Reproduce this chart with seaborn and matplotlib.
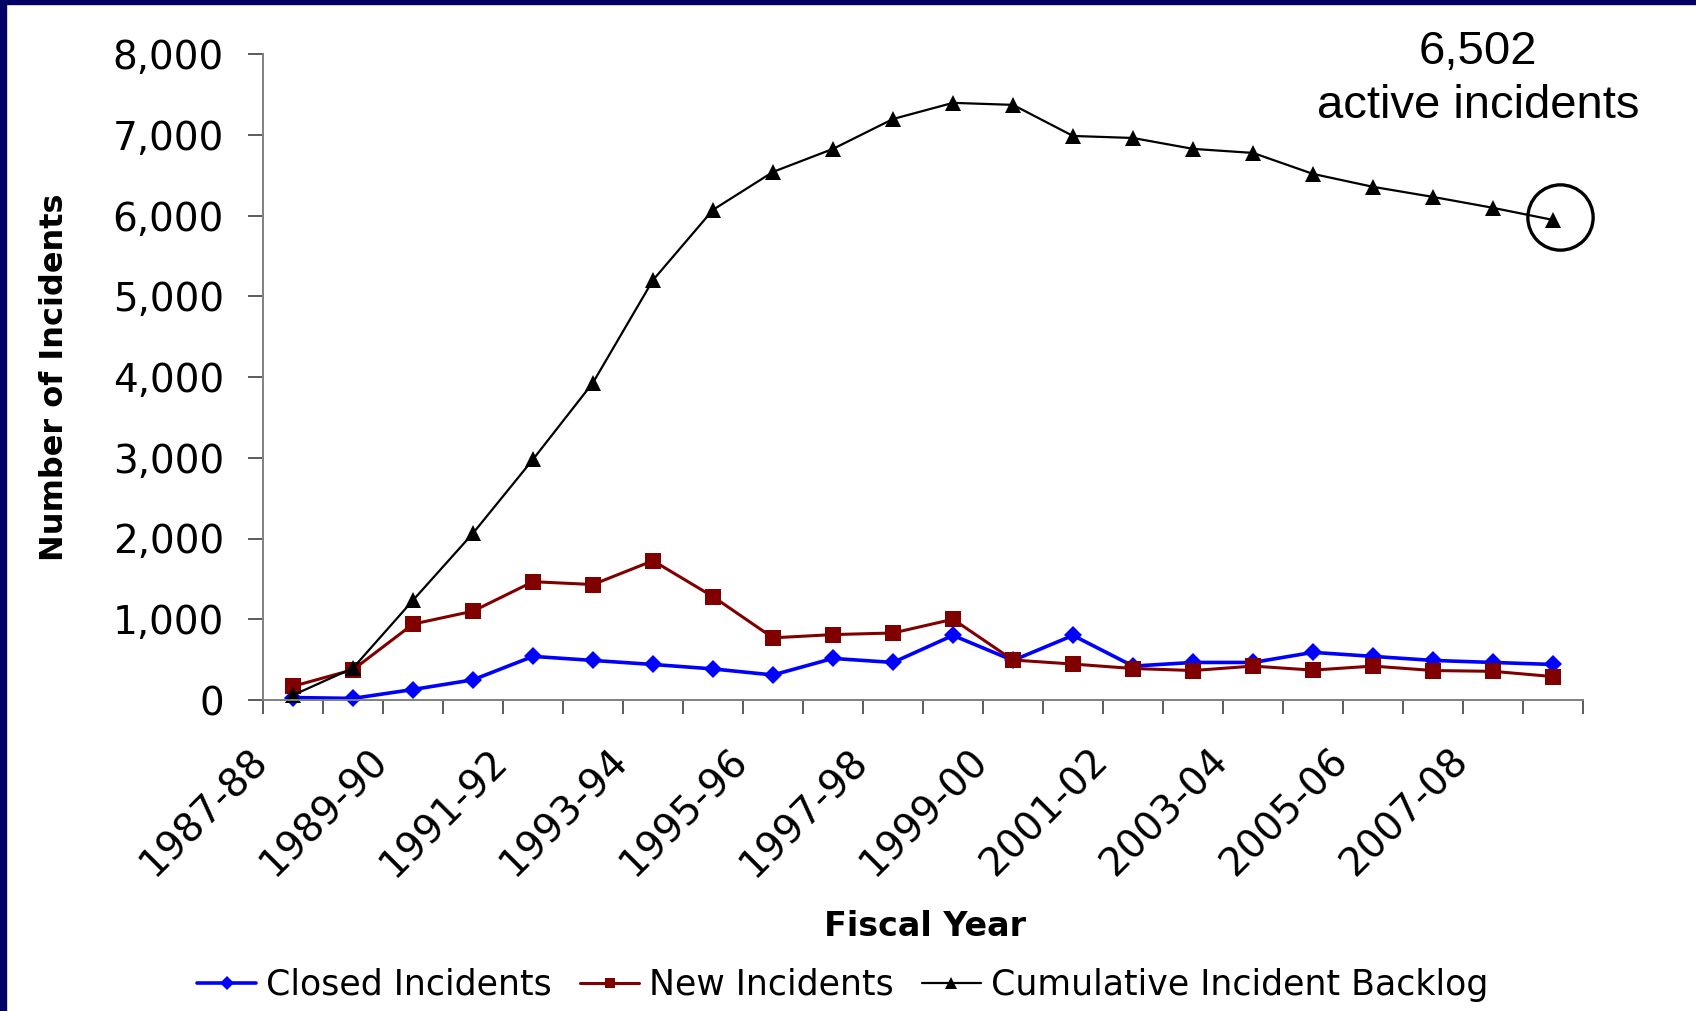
import numpy as np
import pandas as pd
import matplotlib
matplotlib.use("Agg")
import matplotlib.pyplot as plt
import matplotlib.transforms as mtransforms
from matplotlib.patches import Rectangle
from matplotlib.ticker import FuncFormatter
import seaborn as sns

sns.set_style("white")
plt.rcParams['font.family'] = ['DejaVu Sans']
plt.rcParams['text.color'] = 'black'
plt.rcParams['axes.labelcolor'] = 'black'
plt.rcParams['xtick.color'] = 'black'
plt.rcParams['ytick.color'] = 'black'

# Fiscal years on the x axis
years = ['1987-88', '1988-89', '1989-90', '1990-91', '1991-92', '1992-93',
         '1993-94', '1994-95', '1995-96', '1996-97', '1997-98', '1998-99',
         '1999-00', '2000-01', '2001-02', '2002-03', '2003-04', '2004-05',
         '2005-06', '2006-07', '2007-08', '2008-09']

# Values
closed = [30, 20, 130, 250, 540, 490, 440, 385, 310, 515, 465, 800,
          490, 800, 420, 465, 465, 590, 540, 490, 465, 440]
new = [170, 375, 940, 1100, 1465, 1430, 1725, 1280, 770, 810, 830, 1000,
       495, 445, 390, 365, 420, 370, 420, 365, 355, 290]
backlog = [60, 395, 1235, 2065, 2980, 3930, 5200, 6070, 6540, 6825, 7195, 7395,
           7370, 6985, 6960, 6825, 6775, 6515, 6355, 6230, 6095, 5945]

series_names = ['Closed Incidents', 'New Incidents', 'Cumulative Incident Backlog']
annotation = '6,502\nactive incidents'

df = pd.DataFrame({'pos': np.arange(len(years)), 'year': years,
                   'closed': closed, 'new': new, 'backlog': backlog})

fig = plt.figure(figsize=(16.96, 10.11), dpi=100)
ax = fig.add_axes([263 / 1696, 1 - 700 / 1011, 1320 / 1696, 646 / 1011])

# --- series ---
sns.lineplot(data=df, x='pos', y='closed', ax=ax, color='#0000FF', lw=2.6,
             marker='D', markersize=9.5, markeredgewidth=0, label=series_names[0],
             clip_on=False)
sns.lineplot(data=df, x='pos', y='new', ax=ax, color='#800000', lw=2.2,
             marker='s', markersize=11, markeredgewidth=0, label=series_names[1],
             clip_on=False)
sns.lineplot(data=df, x='pos', y='backlog', ax=ax, color='black', lw=1.6,
             marker='^', markersize=11.5, markeredgewidth=0, label=series_names[2],
             clip_on=False)

# circle around the last backlog point
circ_tr = mtransforms.offset_copy(ax.transData, fig=fig, x=7, y=2.5, units='dots')
ax.plot(df['pos'].iloc[-1], df['backlog'].iloc[-1], marker='o', ms=47,
        mfc='none', mec='black', mew=2.4, transform=circ_tr, clip_on=False)

# --- axes styling ---
ax.set_xlim(-0.5, len(years) - 0.5)
ax.set_ylim(0, 8000)
ax.set_yticks(range(0, 8001, 1000))
ax.yaxis.set_major_formatter(FuncFormatter(lambda v, p: f'{int(v):,}'))

# boundary tick marks (minor) and every other year label (major, no mark)
bounds = np.arange(-0.5, len(years), 1)
ax.set_xticks(bounds, minor=True)
label_pos = np.arange(0, len(years), 2) - 0.5 + 0.2
ax.set_xticks(label_pos)
ax.set_xticklabels(years[::2], rotation=45, ha='right')

for side in ['top', 'right']:
    ax.spines[side].set_visible(False)
for side in ['left', 'bottom']:
    ax.spines[side].set_color('#808080')
    ax.spines[side].set_linewidth(1.4)

ax.tick_params(axis='y', direction='out', length=11, width=1.2, color='#404040',
               labelsize=28, pad=17, left=True)
ax.tick_params(axis='x', which='major', length=0, labelsize=28, pad=30, bottom=True)
ax.tick_params(axis='x', which='minor', direction='out', length=10, width=1.2,
               color='#404040', bottom=True)

ax.set_xlabel('Fiscal Year', fontsize=24, fontweight='bold', va='center')
ax.xaxis.set_label_coords(0.5015, -0.351)
ax.set_ylabel('Number of Incidents', fontsize=23, fontweight='bold', va='center')
ax.yaxis.set_label_coords(-0.1576, 0.5)

# annotation text
fig.text(0.8715, 0.9215, annotation, ha='center', va='center', fontsize=34,
         family='Liberation Sans', linespacing=1.3)

# legend below
handles, labels = ax.get_legend_handles_labels()
ax.get_legend().remove()
fig.legend(handles, labels, loc='center', bbox_to_anchor=(0.497, 0.026), ncol=3,
           frameon=False, fontsize=25, handlelength=1.7, handletextpad=0.3,
           columnspacing=0.8, markerscale=0.7)

# navy frame strips (left and top)
fig.add_artist(Rectangle((0, 0), 6 / 1696, 1, transform=fig.transFigure,
                         color='#000066', zorder=10))
fig.add_artist(Rectangle((0, 1 - 4 / 1011), 1, 4 / 1011, transform=fig.transFigure,
                         color='#000066', zorder=10))

fig.savefig('out.png', dpi=100)
